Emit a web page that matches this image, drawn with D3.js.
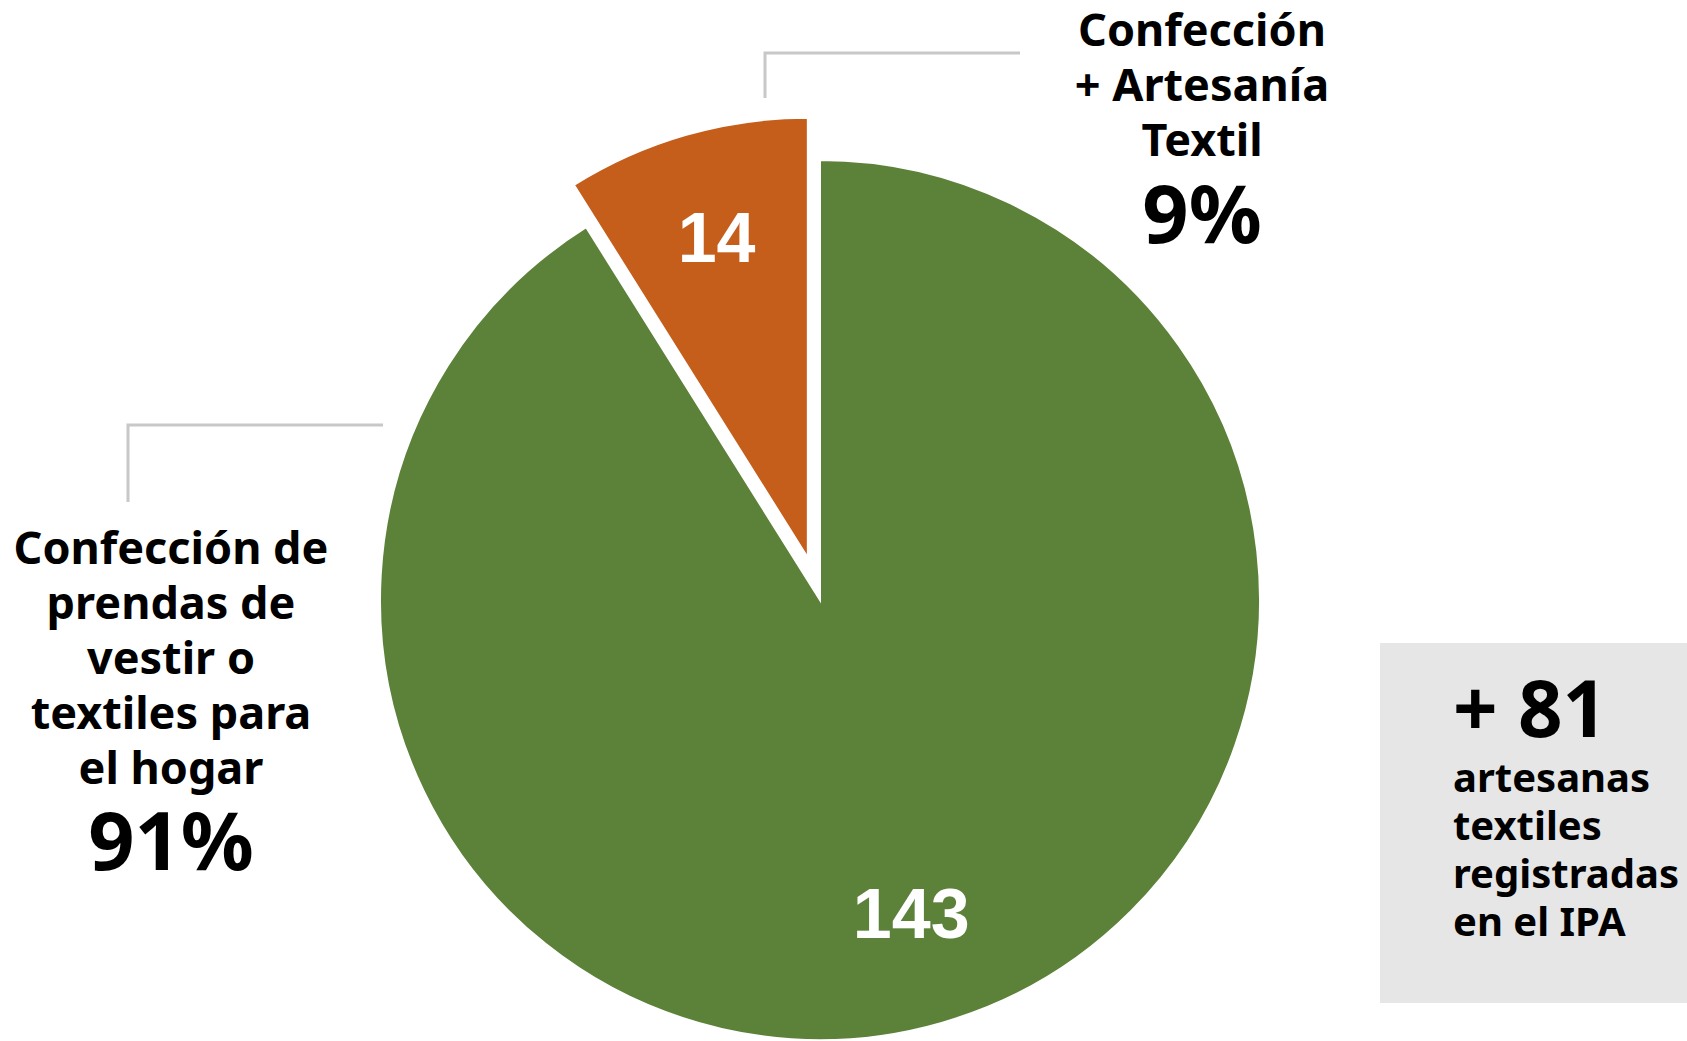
<!DOCTYPE html>
<html>
  <head>
    <meta charset="utf-8">
    <title>Confección textil</title>
    <style>
      body { margin: 0; background: #fff; }
      .lbl { font-family: "Noto Sans", sans-serif; font-weight: 700; fill: #000; }
      .val { font-family: "Liberation Sans", Arial, sans-serif; font-weight: 700; fill: #fff; }
    </style>
  </head>
  <body>
    <script src="https://d3js.org/d3.v7.min.js"></script>
    <script>
      // Data
      const categories = ["Confección de prendas de vestir o textiles para el hogar", "Confección + Artesanía Textil"];
      const values = [143, 14];
      const percents = ["91%", "9%"];
      const colors = ["#5c8139", "#c55d1b"];
      const labelLines = [
        ["Confección de", "prendas de", "vestir o", "textiles para", "el hogar"],
        ["Confección", "+ Artesanía", "Textil"]
      ];
      const extraNumber = "+ 81";
      const extraLines = ["artesanas", "textiles", "registradas", "en el IPA"];

      const W = 1687, H = 1041;
      const cx = 820, cy = 600, r = 440;
      const explode = [0, 44];

      const svg = d3.select("body").append("svg")
        .attr("width", W)
        .attr("height", H);

      const rows = categories.map((c, i) => ({ name: c, value: values[i], i: i }));
      const pie = d3.pie().sort(null).value(d => d.value);
      const arcs = pie(rows);
      const arc = d3.arc().innerRadius(0).outerRadius(r);
      const labelArc = d3.arc().innerRadius(330).outerRadius(330);

      const g = svg.append("g").attr("transform", `translate(${cx},${cy})`);

      function offset(d) {
        const a = (d.startAngle + d.endAngle) / 2;
        const e = explode[d.data.i];
        return [Math.sin(a) * e, -Math.cos(a) * e];
      }

      const slice = g.selectAll("g.slice")
        .data(arcs)
        .join("g")
        .attr("class", "slice")
        .attr("transform", d => `translate(${offset(d)})`);

      slice.append("path")
        .attr("d", arc)
        .attr("fill", d => colors[d.data.i])
        .attr("stroke", "#fff")
        .attr("stroke-width", 2);

      slice.append("text")
        .attr("class", "val")
        .attr("transform", d => `translate(${labelArc.centroid(d)})`)
        .attr("text-anchor", "middle")
        .attr("dy", "0.3em")
        .attr("font-size", 70)
        .text(d => d.value);

      // Leader lines
      const leaders = [
        [[128, 502], [128, 425], [383, 425]],
        [[765, 98], [765, 53], [1020, 53]]
      ];
      svg.selectAll("path.leader")
        .data(leaders)
        .join("path")
        .attr("class", "leader")
        .attr("d", d3.line())
        .attr("fill", "none")
        .attr("stroke", "#c8c8c8")
        .attr("stroke-width", 3);

      // Category labels
      const labelPos = [
        { x: 171, y: 564, pctY: 870 },
        { x: 1202, y: 46, pctY: 243 }
      ];
      labelLines.forEach((lines, i) => {
        const t = svg.append("text")
          .attr("class", "lbl")
          .attr("text-anchor", "middle")
          .attr("font-size", 45);
        lines.forEach((l, j) => {
          t.append("tspan")
            .attr("x", labelPos[i].x)
            .attr("y", labelPos[i].y + j * 55)
            .text(l);
        });
        svg.append("text")
          .attr("class", "lbl")
          .attr("text-anchor", "middle")
          .attr("x", labelPos[i].x)
          .attr("y", labelPos[i].pctY)
          .attr("font-size", 81)
          .text(percents[i]);
      });

      // Side box
      svg.append("rect")
        .attr("x", 1380)
        .attr("y", 643)
        .attr("width", W - 1380)
        .attr("height", 360)
        .attr("fill", "#e6e6e6");

      svg.append("text")
        .attr("class", "lbl")
        .attr("x", 1453)
        .attr("y", 737)
        .attr("font-size", 78)
        .text(extraNumber);

      const et = svg.append("text")
        .attr("class", "lbl")
        .attr("font-size", 40);
      extraLines.forEach((l, j) => {
        et.append("tspan")
          .attr("x", 1453)
          .attr("y", 792 + j * 48)
          .text(l);
      });
    </script>
  </body>
</html>
